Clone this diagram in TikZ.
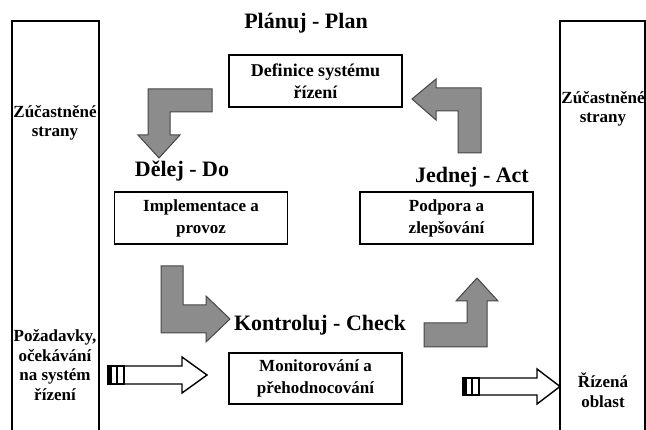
\documentclass[tikz,border=0pt]{standalone}
\usepackage{fontspec}
\setmainfont{Liberation Serif}
\definecolor{arrowgray}{RGB}{140,140,140}
\definecolor{arrowedge}{RGB}{70,70,70}
\begin{document}
\begin{tikzpicture}[x=1pt,y=-1pt,
  side/.style={draw=black,line width=2pt},
  box/.style={draw=black,line width=1.6pt,minimum width=173pt,minimum height=52pt,inner sep=0pt,align=center,font=\bfseries\fontsize{17}{22}\selectfont},
  head/.style={font=\bfseries\fontsize{22}{26}\selectfont,inner sep=0pt},
  sidetxt/.style={align=center,font=\bfseries\fontsize{17}{19.5}\selectfont,inner sep=0pt},
  bendarrow/.style={fill=arrowgray,draw=arrowedge,line width=1pt,line join=miter},
  hollow/.style={fill=white,draw=black,line width=1.4pt,line join=miter},
  tail/.style={draw=black,line width=1.2pt}]
\useasboundingbox (0,0) rectangle (646,430);
\clip (0,0) rectangle (646,430);
\fill[white] (0,0) rectangle (646,430);

% side columns (open at the bottom)
\draw[side] (12,434) -- (12,21) -- (99,21) -- (99,434);
\draw[side] (560,434) -- (560,21) -- (645,21) -- (645,434);

% side texts
\node[sidetxt] (lst) at (55,123) {Zúčastněné\\strany};
\node[sidetxt] (lreq) at (55,365) {Požadavky,\\očekávání\\na systém\\řízení};
\node[sidetxt] (rst) at (603,109) {Zúčastněné\\strany};
\node[sidetxt] (rob) at (603,390) {Řízená\\oblast};

% headings
\node[head] (plan) at (306,23) {Plánuj - Plan};
\node[head] (do) at (182,171) {Dělej - Do};
\node[head] (act) at (472,177) {Jednej - Act};
\node[head] (check) at (320,325) {Kontroluj - Check};

% boxes
\node[box,font=\bfseries\fontsize{18}{22}\selectfont] (def) at (315.5,81) {Definice systému\\řízení};
\node[box] (impl) at (201,218) {Implementace a\\provoz};
\node[box] (podp) at (446.5,218) {Podpora a\\zlepšování};
\node[box,minimum height=51pt] (mon) at (315.5,378.5) {Monitorování a\\přehodnocování};

% grey bent arrows
\draw[bendarrow] (212,89) -- (148,89) -- (148,135) -- (138,135) -- (159,158) -- (180,135) -- (170,135) -- (170,112) -- (212,112) -- cycle;
\draw[bendarrow] (481,153) -- (481,88) -- (436,88) -- (436,79) -- (412,99) -- (436,120) -- (436,111) -- (458,111) -- (458,153) -- cycle;
\draw[bendarrow] (161,266) -- (183,266) -- (183,305) -- (206,305) -- (206,296) -- (230,319) -- (206,342) -- (206,333) -- (161,333) -- cycle;
\draw[bendarrow] (424,347) -- (487,347) -- (487,301) -- (498,301) -- (477,278) -- (456,301) -- (467,301) -- (467,323) -- (424,323) -- cycle;

% hollow arrows with striped tails
\draw[hollow] (124,366) -- (182,366) -- (182,357) -- (207,375) -- (182,393) -- (182,384) -- (124,384) -- cycle;
\fill[black] (108,366) rectangle (112,384);
\draw[tail] (108,366) rectangle (124,384);
\draw[tail] (117,366) -- (117,384);

\draw[hollow] (479,378) -- (537,378) -- (537,369) -- (560,386.5) -- (537,404) -- (537,395) -- (479,395) -- cycle;
\fill[black] (463,378) rectangle (467,395);
\draw[tail] (463,378) rectangle (479,395);
\draw[tail] (472,378) -- (472,395);
\end{tikzpicture}
\end{document}
